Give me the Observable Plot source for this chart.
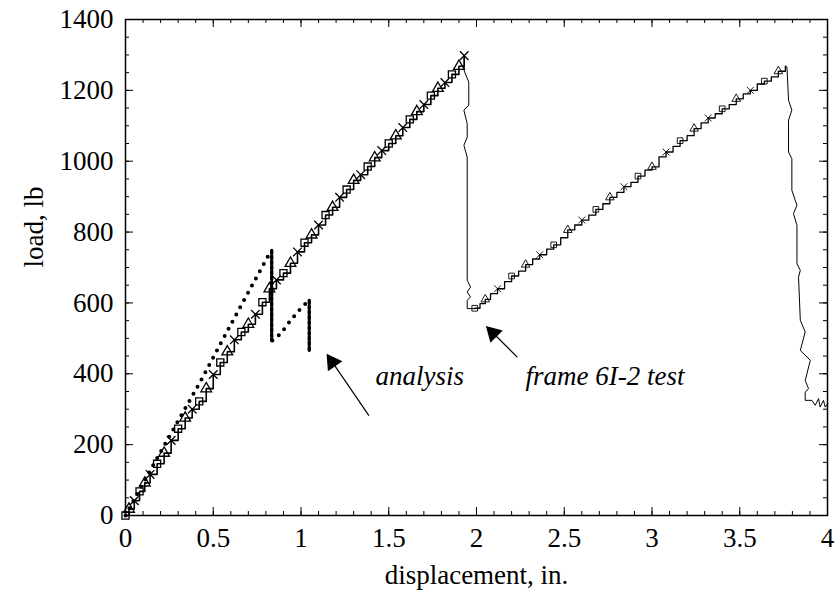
<!DOCTYPE html>
<html>
<head>
<meta charset="utf-8">
<script src="https://cdn.jsdelivr.net/npm/d3@7"></script>
<script src="https://cdn.jsdelivr.net/npm/@observablehq/plot@0.6"></script>
<style>
  html, body { margin: 0; padding: 0; background: white; }
</style>
</head>
<body>
<div id="chart"></div>
<script>
// ---- axis ticks ----
const xTickValues = [0, 0.5, 1, 1.5, 2, 2.5, 3, 3.5, 4];
const yTickValues = [0, 200, 400, 600, 800, 1000, 1200, 1400];
const xMinorStep = 0.1;
const yMinorStep = 50;

// ---- test curve: rising branch 1 ----
const test1X = [0, 0.02, 0.05, 0.08, 0.11, 0.14, 0.18, 0.22, 0.26, 0.30, 0.34, 0.38, 0.42, 0.46, 0.50, 0.54, 0.58, 0.62, 0.66, 0.70, 0.74, 0.78, 0.82, 0.86, 0.90, 0.94, 0.98, 1.02, 1.06, 1.10, 1.14, 1.18, 1.22, 1.26, 1.30, 1.34, 1.38, 1.42, 1.46, 1.50, 1.54, 1.58, 1.62, 1.66, 1.70, 1.74, 1.78, 1.82, 1.86, 1.90, 1.93];
const test1Y = [0, 18, 42, 68, 92, 116, 146, 176, 212, 245, 275, 300, 322, 358, 398, 432, 462, 496, 518, 540, 568, 602, 640, 665, 684, 712, 744, 770, 792, 820, 848, 870, 898, 920, 946, 962, 985, 1010, 1030, 1050, 1072, 1095, 1118, 1140, 1160, 1185, 1206, 1222, 1245, 1268, 1298];

// ---- test curve: first load drop ----
const drop1X = [1.93, 1.93, 1.956, 1.956, 1.928, 1.947, 1.947, 1.928, 1.947, 1.947, 1.966, 1.947, 1.966, 1.947, 1.947, 1.99];
const drop1Y = [1298, 1255, 1223, 1158, 1144, 1106, 1067, 1045, 1012, 664, 645, 631, 617, 607, 584, 584];

// ---- test curve: rising branch 2 ----
const test2X = [1.99, 2.02, 2.05, 2.08, 2.12, 2.16, 2.20, 2.24, 2.28, 2.32, 2.36, 2.40, 2.44, 2.48, 2.52, 2.56, 2.60, 2.64, 2.68, 2.72, 2.76, 2.80, 2.84, 2.88, 2.92, 2.96, 3.00, 3.04, 3.08, 3.12, 3.16, 3.20, 3.24, 3.28, 3.32, 3.36, 3.40, 3.44, 3.48, 3.52, 3.56, 3.60, 3.64, 3.68, 3.72, 3.76];
const test2Y = [585, 598, 610, 626, 640, 660, 676, 690, 708, 724, 736, 752, 764, 784, 806, 820, 834, 848, 864, 880, 898, 912, 928, 940, 958, 975, 984, 1012, 1026, 1042, 1058, 1072, 1092, 1108, 1122, 1134, 1148, 1160, 1176, 1190, 1200, 1218, 1226, 1238, 1254, 1268];

// ---- test curve: final load drop ----
const drop2X = [3.76, 3.769, 3.778, 3.797, 3.778, 3.778, 3.797, 3.797, 3.826, 3.806, 3.826, 3.826, 3.845, 3.835, 3.845, 3.873, 3.845, 3.902, 3.873, 3.892, 3.873, 3.873, 3.911, 3.93, 3.949, 3.958, 3.977, 3.987, 4.0];
const drop2Y = [1268, 1266, 1172, 1144, 1116, 1026, 1007, 918, 875, 852, 819, 711, 692, 673, 551, 518, 466, 438, 381, 358, 348, 325, 325, 311, 330, 306, 325, 306, 315];

// ---- analysis curve ----
const anaRise1X = [0, 0.17, 0.43, 0.65, 0.83];
const anaRise1Y = [0, 153, 381, 585, 748];
const anaDrop1X = [0.833, 0.833];
const anaDrop1Y = [748, 494];
const anaRise2X = [0.837, 0.884, 0.941, 0.998, 1.045];
const anaRise2Y = [494, 513, 551, 584, 607];
const anaDrop2X = [1.047, 1.047];
const anaDrop2Y = [607, 461];

// ---- annotations ----
const labelTexts = ["analysis", "frame 6I-2 test"];
const labelX = [1.425, 2.279];
const labelY = [393, 393];
const arrowFromX = [1.387, 2.232];
const arrowFromY = [282, 447];
const arrowToX = [1.159, 2.07];
const arrowToY = [447, 527];

// ---- build tables ----
const pts = (xs, ys) => xs.map((x, i) => ({x, y: ys[i], i}));
const test1 = pts(test1X, test1Y);
const test2 = pts(test2X, test2Y);
const drop1 = pts(drop1X, drop1Y);
const drop2 = pts(drop2X, drop2Y);
const anaR1 = pts(anaRise1X, anaRise1Y);
const anaR2 = pts(anaRise2X, anaRise2Y);
const anaD1 = pts(anaDrop1X, anaDrop1Y);
const anaD2 = pts(anaDrop2X, anaDrop2Y);
const labels = labelTexts.map((t, i) => ({t, x: labelX[i], y: labelY[i]}));
const arrows = arrowFromX.map((x, i) => ({x1: x, y1: arrowFromY[i], x2: arrowToX[i], y2: arrowToY[i]}));

const W = 838, H = 603, mL = 125, mR = 11, mT = 19, mB = 88;
const kx = (W - mL - mR) / 4;      // px per inch
const ky = (H - mT - mB) / 1400;   // px per lb
const xMinor = d3.range(0, 4 + 1e-9, xMinorStep);
const yMinor = d3.range(0, 1400 + 1e-9, yMinorStep);
const maj = 8, mnr = 4;

const symbols = ["square", "triangle", "times"];
const FONT = "Liberation Serif, Times New Roman, serif";

// arrow head geometry derived from the arrow data
const heads = arrows.map(a => {
  const dxp = (a.x2 - a.x1) * kx, dyp = -(a.y2 - a.y1) * ky;
  const len = Math.hypot(dxp, dyp);
  const back = 6;
  return {
    x: a.x2 - (dxp / len) * back / kx,
    y: a.y2 + (dyp / len) * back / ky,
    rot: Math.atan2(dxp, -dyp) * 180 / Math.PI
  };
});

const chart = Plot.plot({
  width: W, height: H,
  marginLeft: mL, marginRight: mR, marginTop: mT, marginBottom: mB,
  style: {fontFamily: FONT, fontSize: "27px", background: "white", color: "black"},
  x: {domain: [0, 4], axis: null},
  y: {domain: [0, 1400], axis: null},
  marks: [
    // minor ticks (inward on all four sides)
    Plot.ruleX(xMinor, {x: d => d, y1: 0, y2: mnr / ky, stroke: "black", strokeWidth: 1}),
    Plot.ruleX(xMinor, {x: d => d, y1: 1400, y2: 1400 - mnr / ky, stroke: "black", strokeWidth: 1}),
    Plot.ruleY(yMinor, {y: d => d, x1: 0, x2: mnr / kx, stroke: "black", strokeWidth: 1}),
    Plot.ruleY(yMinor, {y: d => d, x1: 4, x2: 4 - mnr / kx, stroke: "black", strokeWidth: 1}),
    // major ticks
    Plot.ruleX(xTickValues, {x: d => d, y1: 0, y2: maj / ky, stroke: "black", strokeWidth: 1}),
    Plot.ruleX(xTickValues, {x: d => d, y1: 1400, y2: 1400 - maj / ky, stroke: "black", strokeWidth: 1}),
    Plot.ruleY(yTickValues, {y: d => d, x1: 0, x2: maj / kx, stroke: "black", strokeWidth: 1}),
    Plot.ruleY(yTickValues, {y: d => d, x1: 4, x2: 4 - maj / kx, stroke: "black", strokeWidth: 1}),
    // tick labels
    Plot.axisX(xTickValues, {anchor: "bottom", tickSize: 0, tickPadding: 12, fontSize: 27, label: null, tickFormat: d => String(d)}),
    Plot.axisY(yTickValues, {anchor: "left", tickSize: 0, tickPadding: 12, fontSize: 27, label: null, tickFormat: d => String(d)}),
    // axis titles
    Plot.text(["displacement, in."], {frameAnchor: "bottom", dy: 68, fontSize: 27, fill: "black"}),
    Plot.text(["load, lb"], {frameAnchor: "left", dx: -91, rotate: -90, fontSize: 27, fill: "black"}),
    // test curve
    Plot.line(test1, {x: "x", y: "y", curve: "step-after", stroke: "black", strokeWidth: 1.6}),
    Plot.line(drop1, {x: "x", y: "y", stroke: "black", strokeWidth: 1}),
    Plot.line(test2, {x: "x", y: "y", curve: "step-after", stroke: "black", strokeWidth: 1.3}),
    Plot.line(drop2, {x: "x", y: "y", stroke: "black", strokeWidth: 1}),
    Plot.dot(test1, {x: "x", y: "y", symbol: d => symbols[d.i % 3], r: 4, stroke: "black", strokeWidth: 1.3}),
    Plot.dot(test2.filter(d => d.i % 2 === 0), {x: "x", y: "y", symbol: d => symbols[(d.i / 2) % 3], r: 3.2, stroke: "black", strokeWidth: 0.9}),
    // analysis curve (dotted)
    Plot.line(anaR1, {x: "x", y: "y", stroke: "black", strokeWidth: 4, strokeDasharray: "0,8.2", strokeLinecap: "round"}),
    Plot.line(anaR2, {x: "x", y: "y", stroke: "black", strokeWidth: 4, strokeDasharray: "0,8.2", strokeLinecap: "round"}),
    Plot.line(anaD1, {x: "x", y: "y", stroke: "black", strokeWidth: 3.4, strokeDasharray: "3,2.2"}),
    Plot.line(anaD2, {x: "x", y: "y", stroke: "black", strokeWidth: 3.4, strokeDasharray: "3,2.2"}),
    // annotations
    Plot.link(arrows, {x1: "x1", y1: "y1", x2: "x2", y2: "y2", stroke: "black", strokeWidth: 1.2}),
    Plot.dot(heads, {x: "x", y: "y", symbol: "triangle", r: 6.5, rotate: "rot", fill: "black", stroke: "none"}),
    Plot.text(labels, {x: "x", y: "y", text: "t", textAnchor: "start", fontStyle: "italic", fontSize: 27, fill: "black"}),
    Plot.frame({stroke: "black", strokeWidth: 1.5})
  ]
});
document.getElementById("chart").appendChild(chart);
</script>
</body>
</html>
